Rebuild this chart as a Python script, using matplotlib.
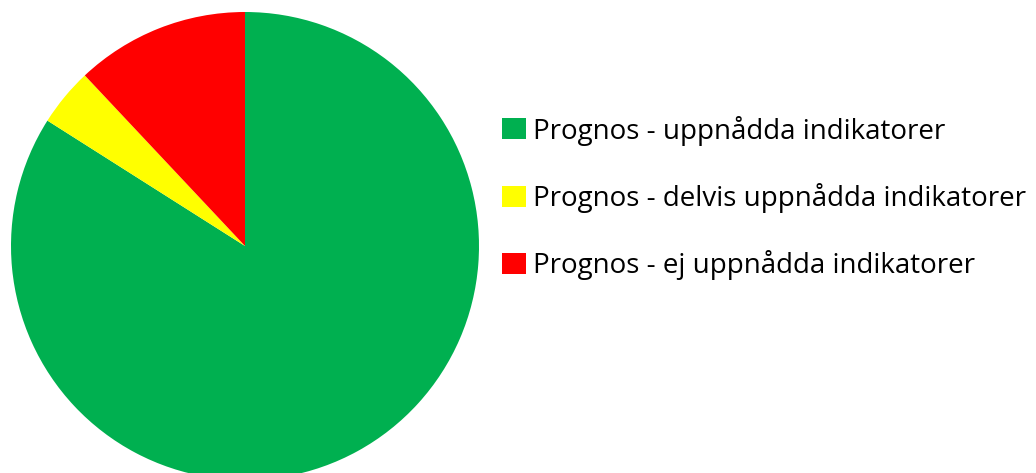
import matplotlib
matplotlib.use("Agg")
import matplotlib.pyplot as plt

labels = ["Prognos - uppnådda indikatorer",
          "Prognos - delvis uppnådda indikatorer",
          "Prognos - ej uppnådda indikatorer"]
values = [21, 1, 3]
colors = ["#00B050", "#FFFF00", "#FF0000"]

W, H = 1036, 473
fig = plt.figure(figsize=(W / 100, H / 100), dpi=100)
cx, cy, r = 245, 246, 234
ax = fig.add_axes([(cx - r) / W, (H - cy - r) / H, 2 * r / W, 2 * r / H])
wedges, _ = ax.pie(values, colors=colors, startangle=90, counterclock=False,
                   radius=1.0, wedgeprops=dict(linewidth=0))
ax.set_xlim(-1, 1)
ax.set_ylim(-1, 1)
ax.set_aspect("equal")
ax.axis("off")

fs = 20
px = fs * 100 / 72
fig.legend(wedges, labels, loc="center left",
           bbox_to_anchor=(502 / W, (H - 198) / H),
           frameon=False, prop=dict(family="Open Sans", size=fs),
           handlelength=24 / px, handleheight=22 / px, handletextpad=7 / px,
           labelspacing=1.35, borderaxespad=0, borderpad=0)
fig.savefig("out.png", dpi=100)
